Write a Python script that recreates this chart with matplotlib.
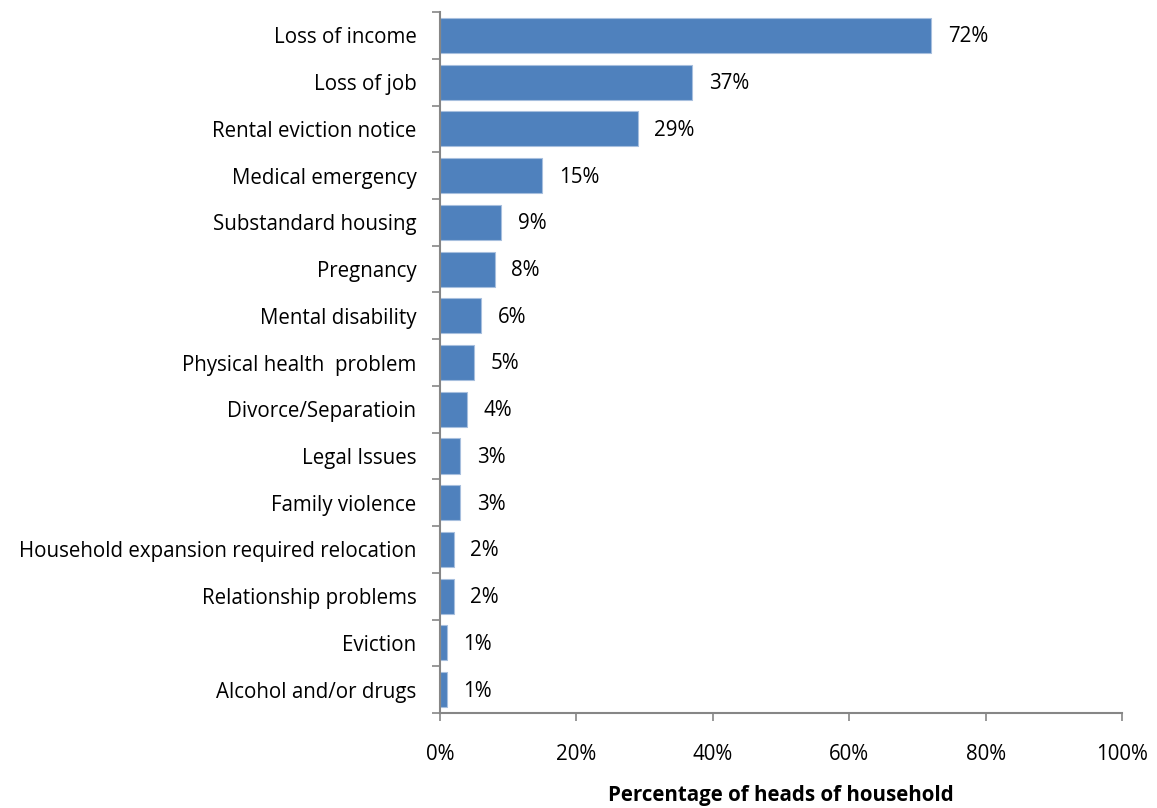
import matplotlib
matplotlib.use("Agg")
import matplotlib.pyplot as plt
from matplotlib.ticker import FixedLocator, NullFormatter

categories = [
    "Loss of income",
    "Loss of job",
    "Rental eviction notice",
    "Medical emergency",
    "Substandard housing",
    "Pregnancy",
    "Mental disability",
    "Physical health  problem",
    "Divorce/Separatioin",
    "Legal Issues",
    "Family violence",
    "Household expansion required relocation",
    "Relationship problems",
    "Eviction",
    "Alcohol and/or drugs",
]
values = [72, 37, 29, 15, 9, 8, 6, 5, 4, 3, 3, 2, 2, 1, 1]
xticks = [0, 20, 40, 60, 80, 100]
xtick_labels = ["0%", "20%", "40%", "60%", "80%", "100%"]

plt.rcParams["font.family"] = ["Open Sans", "DejaVu Sans"]
FS = 14.8

fig = plt.figure(figsize=(11.57, 8.08), dpi=100)
ax = fig.add_axes([0.3803, 0.1176, 0.5895, 0.8674])

n = len(categories)
ypos = list(range(n))
ax.barh(ypos, values, height=0.75, color="#4F81BD", edgecolor="#A7BFDE", linewidth=0.8)
ax.set_xlim(0, 100)
ax.set_ylim(n - 0.5, -0.5)

for y, v in zip(ypos, values):
    ax.annotate(f"{v}%", xy=(v, y), xytext=(12, -1), textcoords="offset points",
                ha="left", va="center", fontsize=FS, color="black")

# category labels without tick marks; tick marks at category boundaries
ax.set_yticks(ypos)
ax.set_yticklabels(categories, fontsize=FS)
ax.tick_params(axis="y", length=0, pad=17)
ax.yaxis.set_minor_locator(FixedLocator([i - 0.5 for i in range(n + 1)]))
ax.yaxis.set_minor_formatter(NullFormatter())
ax.tick_params(axis="y", which="minor", length=6, width=1.2, color="#868686")

ax.set_xticks(xticks)
ax.set_xticklabels(xtick_labels, fontsize=FS)
ax.tick_params(axis="x", length=6, width=1.2, color="#868686", pad=16)

for s in ("top", "right"):
    ax.spines[s].set_visible(False)
for s in ("left", "bottom"):
    ax.spines[s].set_color("#868686")
    ax.spines[s].set_linewidth(1.5)

ax.set_xlabel("Percentage of heads of household", fontsize=FS, fontweight="bold", labelpad=15)

fig.savefig("out.png", dpi=100, facecolor="white")
